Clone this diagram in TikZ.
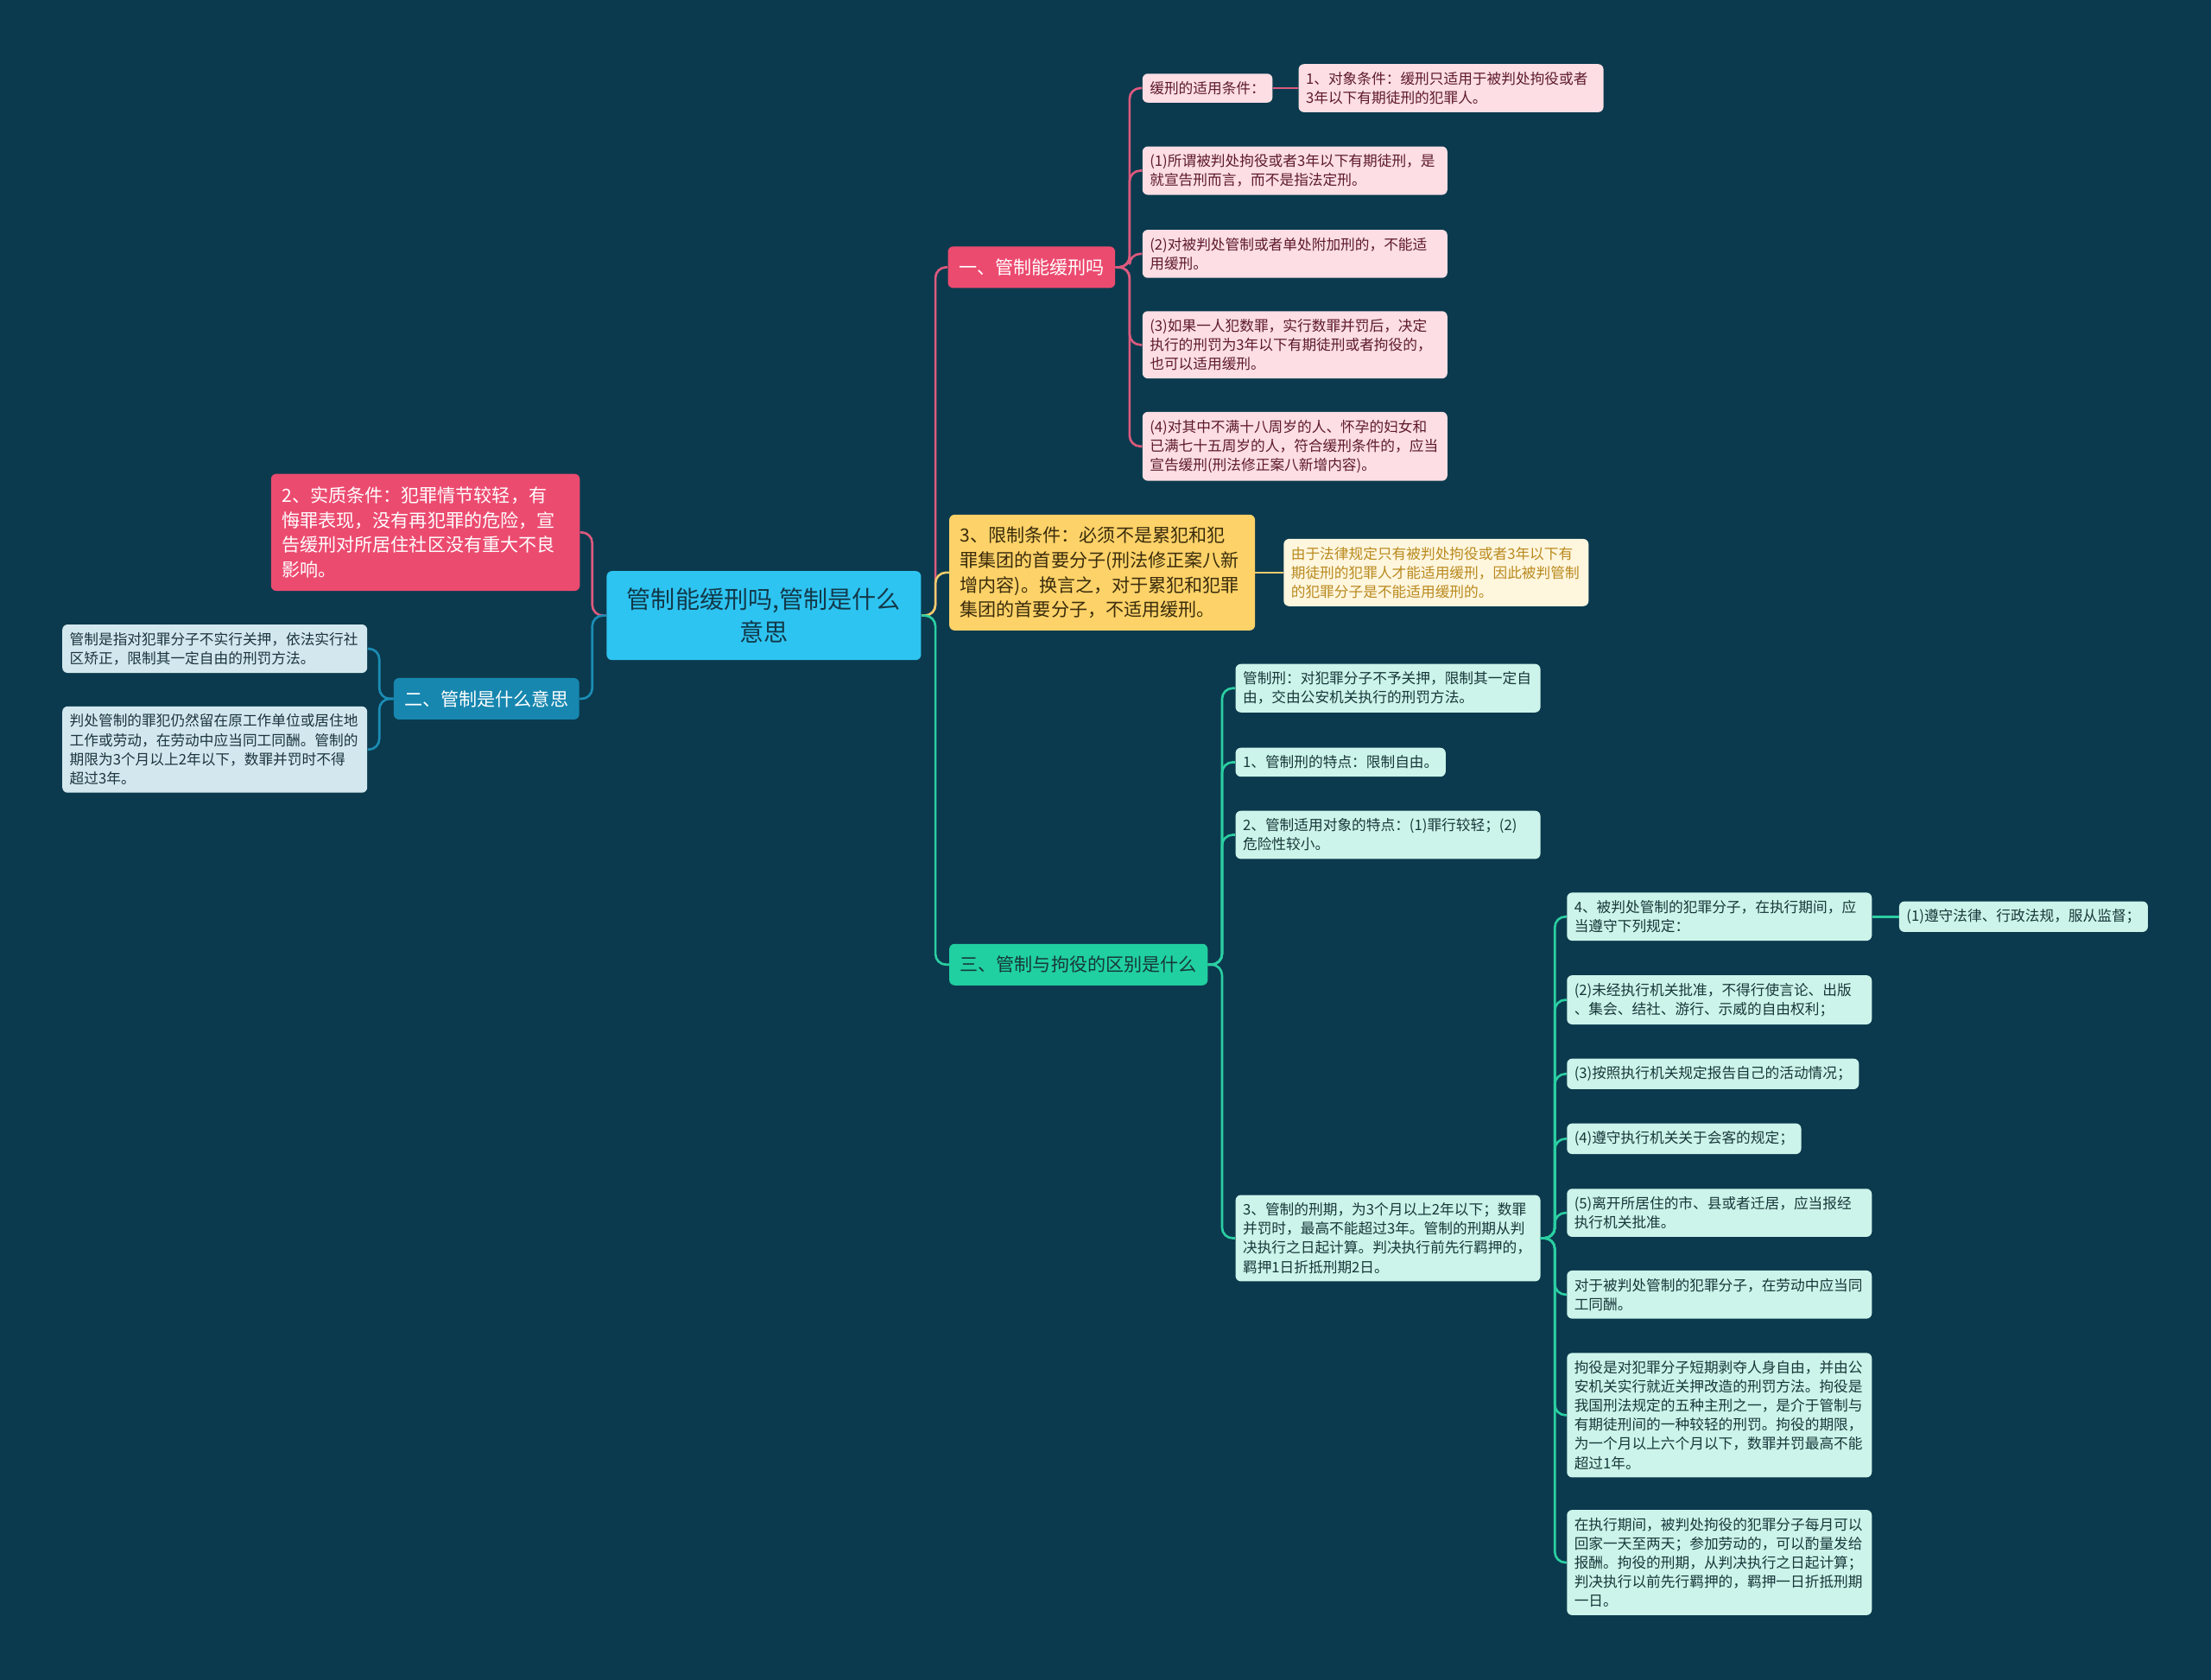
\documentclass[tikz,border=0pt]{standalone}
\usepackage{fontspec}
\setmainfont{Noto Sans CJK SC}
\usepackage{tikz}
\usetikzlibrary{positioning}
\definecolor{bg}{HTML}{0B3A4E}
\definecolor{rootfill}{HTML}{2EC4F1}
\definecolor{rootink}{HTML}{12394A}
\definecolor{redmain}{HTML}{EC4B70}
\definecolor{redleaf}{HTML}{FCDEE4}
\definecolor{redink}{HTML}{5E1A2C}
\definecolor{redline}{HTML}{DD5A7E}
\definecolor{bluemain}{HTML}{1787B0}
\definecolor{blueleaf}{HTML}{D3E8EE}
\definecolor{blueink}{HTML}{1C3440}
\definecolor{blueline}{HTML}{1B8DB5}
\definecolor{yelmain}{HTML}{FDD268}
\definecolor{yelleaf}{HTML}{FFF6DE}
\definecolor{yelink}{HTML}{3A2C0C}
\definecolor{yelleafink}{HTML}{B98A1E}
\definecolor{yelline}{HTML}{EDCB6C}
\definecolor{grnmain}{HTML}{20D0A0}
\definecolor{grnleaf}{HTML}{CDF4EA}
\definecolor{grnink}{HTML}{17383A}
\definecolor{grnline}{HTML}{2BCFA2}

\begin{document}
\begin{tikzpicture}[x=0.0326531cm, y=-0.0326531cm,
  box/.style={rounded corners=3.5pt, inner xsep=0.17cm, inner ysep=0.18cm, align=left, anchor=west},
  small/.style={box, font=\fontsize{9.5}{12.6}\selectfont},
  wide/.style={small, text width=6.72cm},
  big/.style={box, inner xsep=0.25cm, font=\fontsize{12}{16.4}\selectfont, minimum height=0.96cm},
  rootbox/.style={box, fill=rootfill, text=rootink, align=center, text width=6.94cm, minimum height=2.06cm, font=\fontsize{16}{21.3}\selectfont},
  link/.style={line width=1.5pt, rounded corners=7pt}]
\useasboundingbox (0,0) rectangle (1568,1191);
\fill[bg] (0,0) rectangle (1568,1191);

\node[rootbox] (root) at (430,436.5) {管制能缓刑吗,管制是什么\\意思};

\node[big, fill=redmain, text=white, text width=6.65cm, minimum height=2.71cm] (sx) at (192,377.5) {2、实质条件：犯罪情节较轻，有\\悔罪表现，没有再犯罪的危险，宣\\告缓刑对所居住社区没有重大不良\\影响。};
\node[big, fill=bluemain, text=white] (q2) at (279,495.5) {二、管制是什么意思};
\node[wide, fill=blueleaf, text=blueink] (q2a) at (44,460) {管制是指对犯罪分子不实行关押，依法实行社\\区矫正，限制其一定自由的刑罚方法。};
\node[wide, fill=blueleaf, text=blueink] (q2b) at (44,531.5) {判处管制的罪犯仍然留在原工作单位或居住地\\工作或劳动，在劳动中应当同工同酬。管制的\\期限为3个月以上2年以下，数罪并罚时不得\\超过3年。};

\node[big, fill=redmain, text=white] (q1) at (672,189.5) {一、管制能缓刑吗};
\node[small, fill=redleaf, text=redink] (cond) at (810,62.5) {缓刑的适用条件：};
\node[wide, fill=redleaf, text=redink, right=0.59cm of cond] (cond1) {1、对象条件：缓刑只适用于被判处拘役或者\\3年以下有期徒刑的犯罪人。};
\node[wide, fill=redleaf, text=redink] (c1) at (810,121) {(1)所谓被判处拘役或者3年以下有期徒刑，是\\就宣告刑而言，而不是指法定刑。};
\node[wide, fill=redleaf, text=redink] (c2) at (810,180) {(2)对被判处管制或者单处附加刑的，不能适\\用缓刑。};
\node[wide, fill=redleaf, text=redink] (c3) at (810,244.5) {(3)如果一人犯数罪，实行数罪并罚后，决定\\执行的刑罚为3年以下有期徒刑或者拘役的，\\也可以适用缓刑。};
\node[wide, fill=redleaf, text=redink] (c4) at (810,316.5) {(4)对其中不满十八周岁的人、怀孕的妇女和\\已满七十五周岁的人，符合缓刑条件的，应当\\宣告缓刑(刑法修正案八新增内容)。};

\node[big, fill=yelmain, text=yelink, text width=6.58cm, minimum height=2.68cm] (lim) at (673,406) {3、限制条件：必须不是累犯和犯\\罪集团的首要分子(刑法修正案八新\\增内容)。换言之，对于累犯和犯罪\\集团的首要分子，不适用缓刑。};
\node[wide, fill=yelleaf, text=yelleafink, right=0.65cm of lim] (limnote) {由于法律规定只有被判处拘役或者3年以下有\\期徒刑的犯罪人才能适用缓刑，因此被判管制\\的犯罪分子是不能适用缓刑的。};

\node[big, fill=grnmain, text=grnink] (q3) at (673,684) {三、管制与拘役的区别是什么};
\node[wide, fill=grnleaf, text=grnink] (g1) at (876,488) {管制刑：对犯罪分子不予关押，限制其一定自\\由，交由公安机关执行的刑罚方法。};
\node[small, fill=grnleaf, text=grnink] (g2) at (876,540.5) {1、管制刑的特点：限制自由。};
\node[wide, fill=grnleaf, text=grnink] (g3) at (876,592) {2、管制适用对象的特点：(1)罪行较轻；(2)\\危险性较小。};
\node[wide, fill=grnleaf, text=grnink] (g4) at (876,878) {3、管制的刑期，为3个月以上2年以下；数罪\\并罚时，最高不能超过3年。管制的刑期从判\\决执行之日起计算。判决执行前先行羁押的，\\羁押1日折抵刑期2日。};

\node[wide, fill=grnleaf, text=grnink] (r1) at (1111,650) {4、被判处管制的犯罪分子，在执行期间，应\\当遵守下列规定：};
\node[small, fill=grnleaf, text=grnink, right=0.62cm of r1] (r1a) {(1)遵守法律、行政法规，服从监督；};
\node[wide, fill=grnleaf, text=grnink] (r2) at (1111,709) {(2)未经执行机关批准，不得行使言论、出版\\、集会、结社、游行、示威的自由权利；};
\node[small, fill=grnleaf, text=grnink] (r3) at (1111,761.5) {(3)按照执行机关规定报告自己的活动情况；};
\node[small, fill=grnleaf, text=grnink] (r4) at (1111,807.5) {(4)遵守执行机关关于会客的规定；};
\node[wide, fill=grnleaf, text=grnink] (r5) at (1111,860) {(5)离开所居住的市、县或者迁居，应当报经\\执行机关批准。};
\node[wide, fill=grnleaf, text=grnink] (r6) at (1111,918) {对于被判处管制的犯罪分子，在劳动中应当同\\工同酬。};
\node[wide, fill=grnleaf, text=grnink] (r7) at (1111,1003.5) {拘役是对犯罪分子短期剥夺人身自由，并由公\\安机关实行就近关押改造的刑罚方法。拘役是\\我国刑法规定的五种主刑之一，是介于管制与\\有期徒刑间的一种较轻的刑罚。拘役的期限，\\为一个月以上六个月以下，数罪并罚最高不能\\超过1年。};
\node[wide, fill=grnleaf, text=grnink] (r8) at (1111,1108) {在执行期间，被判处拘役的犯罪分子每月可以\\回家一天至两天；参加劳动的，可以酌量发给\\报酬。拘役的刑期，从判决执行之日起计算；\\判决执行以前先行羁押的，羁押一日折抵刑期\\一日。};

\draw[link, draw=redline] (root.west) -- ++(-10,0) |- (sx.east);
\draw[link, draw=blueline] (root.west) -- ++(-10,0) |- (q2.east);
\foreach \n in {q2a,q2b} \draw[link, draw=blueline] (q2.west) -- ++(-10,0) |- (\n.east);

\draw[link, draw=redline] (root.east) -- ++(10,0) |- (q1.west);
\draw[link, draw=yelline] (root.east) -- ++(10,0) |- (lim.west);
\draw[link, draw=grnline] (root.east) -- ++(10,0) |- (q3.west);

\foreach \n in {cond,c1,c2,c3,c4} \draw[link, draw=redline] (q1.east) -- ++(10,0) |- (\n.west);
\draw[link, draw=redline] (cond) -- (cond1);
\draw[link, draw=yelline] (lim) -- (limnote);

\foreach \n in {g1,g2,g3,g4} \draw[link, draw=grnline] (q3.east) -- ++(10,0) |- (\n.west);
\foreach \n in {r1,r2,r3,r4,r5,r6,r7,r8} \draw[link, draw=grnline] (g4.east) -- ++(10,0) |- (\n.west);
\draw[link, draw=grnline] (r1) -- (r1a);
\end{tikzpicture}
\end{document}
